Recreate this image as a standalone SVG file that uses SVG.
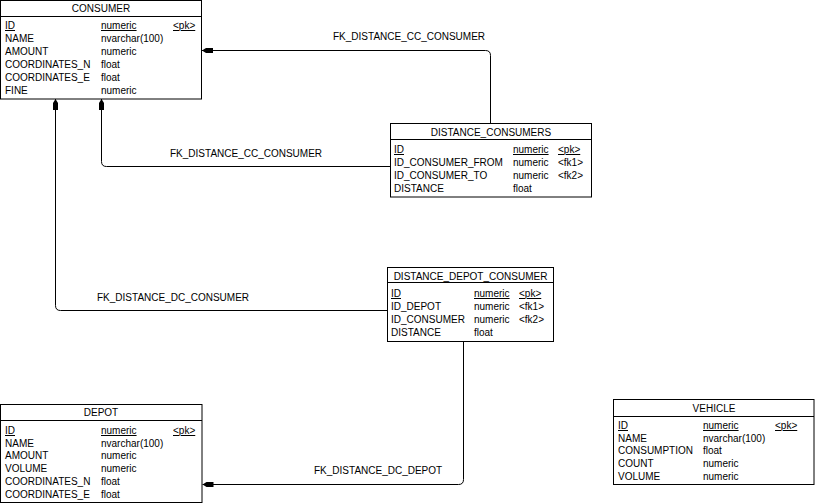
<svg xmlns="http://www.w3.org/2000/svg" width="815" height="504" viewBox="0 0 815 504">
<style>
text{font-family:"Liberation Sans",Arial,sans-serif;font-size:10px;fill:#000}
.t{text-anchor:middle}
.u{text-decoration:underline}
.box{fill:#fff;stroke:#000;stroke-width:1}
.sep{stroke:#000;stroke-width:1}
.c{fill:none;stroke:#000;stroke-width:1;marker-end:url(#arr)}
</style>
<defs>
<marker id="arr" markerUnits="userSpaceOnUse" markerWidth="11" markerHeight="6" viewBox="0 0 11 6" refX="11" refY="3" orient="auto">
<path d="M0,0.5 L7,0.5 L11,3 L7,5.5 L0,5.5 Z" fill="#000"/>
</marker>
</defs>
<rect width="815" height="504" fill="#fff"/>
<g id="connectors">
<path class="c" d="M490.5,124 V55.5 Q490.5,50.5 485.5,50.5 H202"/>
<text x="333" y="40">FK_DISTANCE_CC_CONSUMER</text>
<path class="c" d="M390,166.5 H106.5 Q101.5,166.5 101.5,161.5 V99"/>
<text x="170" y="157">FK_DISTANCE_CC_CONSUMER</text>
<path class="c" d="M387,310.5 H60.5 Q55.5,310.5 55.5,305.5 V99"/>
<text x="97" y="301">FK_DISTANCE_DC_CONSUMER</text>
<path class="c" d="M463.5,342 V479.5 Q463.5,484.5 458.5,484.5 H202.5"/>
<text x="314" y="474">FK_DISTANCE_DC_DEPOT</text>
</g>
<g id="CONSUMER">
<rect class="box" x="0.5" y="0.5" width="201" height="98.5"/>
<line class="sep" x1="0.5" y1="16.5" x2="201.5" y2="16.5"/>
<text class="t" x="101" y="12">CONSUMER</text>
<text class="u" x="5" y="29">ID</text><text class="u" x="101" y="29">numeric</text><text class="u" x="173" y="29">&lt;pk&gt;</text>
<text x="5" y="42">NAME</text><text x="101" y="42">nvarchar(100)</text>
<text x="5" y="55">AMOUNT</text><text x="101" y="55">numeric</text>
<text x="5" y="68">COORDINATES_N</text><text x="101" y="68">float</text>
<text x="5" y="81">COORDINATES_E</text><text x="101" y="81">float</text>
<text x="5" y="94">FINE</text><text x="101" y="94">numeric</text>
</g>
<g id="DISTANCE_CONSUMERS">
<rect class="box" x="390.5" y="123.5" width="201" height="73.5"/>
<line class="sep" x1="390.5" y1="139.5" x2="591.5" y2="139.5"/>
<text class="t" x="491" y="136">DISTANCE_CONSUMERS</text>
<text class="u" x="394" y="153">ID</text><text class="u" x="513" y="153">numeric</text><text class="u" x="558" y="153">&lt;pk&gt;</text>
<text x="394" y="166">ID_CONSUMER_FROM</text><text x="513" y="166">numeric</text><text x="558" y="166">&lt;fk1&gt;</text>
<text x="394" y="179">ID_CONSUMER_TO</text><text x="513" y="179">numeric</text><text x="558" y="179">&lt;fk2&gt;</text>
<text x="394" y="192">DISTANCE</text><text x="513" y="192">float</text>
</g>
<g id="DISTANCE_DEPOT_CONSUMER">
<rect class="box" x="387.5" y="267.5" width="166" height="74"/>
<line class="sep" x1="387.5" y1="282.5" x2="553.5" y2="282.5"/>
<text class="t" x="470.5" y="280">DISTANCE_DEPOT_CONSUMER</text>
<text class="u" x="391" y="297">ID</text><text class="u" x="474" y="297">numeric</text><text class="u" x="519" y="297">&lt;pk&gt;</text>
<text x="391" y="310">ID_DEPOT</text><text x="474" y="310">numeric</text><text x="519" y="310">&lt;fk1&gt;</text>
<text x="391" y="323">ID_CONSUMER</text><text x="474" y="323">numeric</text><text x="519" y="323">&lt;fk2&gt;</text>
<text x="391" y="336">DISTANCE</text><text x="474" y="336">float</text>
</g>
<g id="DEPOT">
<rect class="box" x="0.5" y="404.5" width="201.5" height="98"/>
<line class="sep" x1="0.5" y1="420.5" x2="202" y2="420.5"/>
<text class="t" x="101" y="416">DEPOT</text>
<text class="u" x="5" y="434">ID</text><text class="u" x="101" y="434">numeric</text><text class="u" x="173" y="434">&lt;pk&gt;</text>
<text x="5" y="446.5">NAME</text><text x="101" y="446.5">nvarchar(100)</text>
<text x="5" y="459">AMOUNT</text><text x="101" y="459">numeric</text>
<text x="5" y="472">VOLUME</text><text x="101" y="472">numeric</text>
<text x="5" y="485">COORDINATES_N</text><text x="101" y="485">float</text>
<text x="5" y="497.5">COORDINATES_E</text><text x="101" y="497.5">float</text>
</g>
<g id="VEHICLE">
<rect class="box" x="613.5" y="399.5" width="200.5" height="85"/>
<line class="sep" x1="613.5" y1="416.5" x2="814" y2="416.5"/>
<text class="t" x="714" y="411.5">VEHICLE</text>
<text class="u" x="618" y="429">ID</text><text class="u" x="703" y="429">numeric</text><text class="u" x="775" y="429">&lt;pk&gt;</text>
<text x="618" y="441.5">NAME</text><text x="703" y="441.5">nvarchar(100)</text>
<text x="618" y="454">CONSUMPTION</text><text x="703" y="454">float</text>
<text x="618" y="467">COUNT</text><text x="703" y="467">numeric</text>
<text x="618" y="480">VOLUME</text><text x="703" y="480">numeric</text>
</g>
</svg>
